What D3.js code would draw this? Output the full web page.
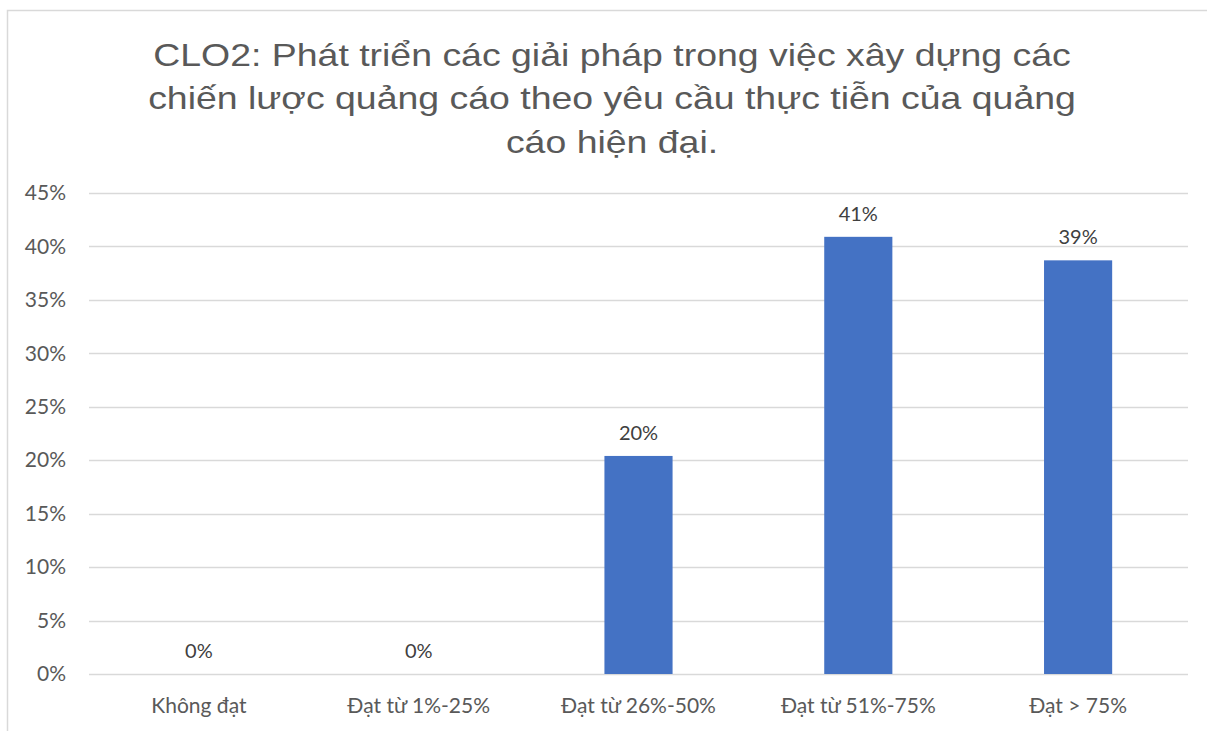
<!DOCTYPE html>
<meta charset="utf-8">
<head>
  <script src="https://d3js.org/d3.v7.min.js"></script>
  <style>
    body { margin: 0; background: #fff; }
    svg { display: block; }
  </style>
</head>
<body>
<div id="my_dataviz"></div>
<script>

// data
var categories = ["Không đạt", "Đạt từ 1%-25%", "Đạt từ 26%-50%", "Đạt từ 51%-75%", "Đạt > 75%"];
var values = [0, 0, 0.204, 0.409, 0.387];
var labels = ["0%", "0%", "20%", "41%", "39%"];
var yTicks = [0, 0.05, 0.10, 0.15, 0.20, 0.25, 0.30, 0.35, 0.40, 0.45];
var titleLines = [
  "CLO2: Phát triển các giải pháp trong việc xây dựng các",
  "chiến lược quảng cáo theo yêu cầu thực tiễn của quảng",
  "cáo hiện đại."
];

var W = 1207, H = 731;
var margin = {top: 193, right: 19, bottom: 57, left: 89},
    width = W - margin.left - margin.right,
    height = H - margin.top - margin.bottom;

var root = d3.select("#my_dataviz")
  .append("svg")
    .attr("width", W)
    .attr("height", H);

// chart frame
root.append("rect")
  .attr("x", 7.5).attr("y", 10.5)
  .attr("width", W + 10).attr("height", H + 10)
  .attr("fill", "none")
  .attr("stroke", "#d9d9d9")
  .attr("stroke-width", 1.5);

// title (the original is a bit wide, so stretch it horizontally)
root.append("text")
  .attr("text-anchor", "middle")
  .attr("transform", "translate(612,0) scale(1.17,1)")
  .style("font-family", "'Liberation Sans', Arial, sans-serif")
  .style("font-size", "32px")
  .style("fill", "#595959")
  .selectAll("tspan")
  .data(titleLines)
  .enter()
  .append("tspan")
    .attr("x", 0)
    .attr("y", function(d, i) { return 66 + i * 43.5; })
    .text(function(d) { return d; });

var svg = root.append("g")
  .attr("transform", "translate(" + margin.left + "," + margin.top + ")");

var x = d3.scaleBand()
  .domain(categories)
  .range([0, width])
  .paddingInner(0.69)
  .paddingOuter(0.345);

var y = d3.scaleLinear()
  .domain([0, 0.45])
  .range([height, 0]);

// gridlines
svg.append("g")
  .selectAll("line")
  .data(yTicks)
  .enter()
  .append("line")
    .attr("x1", 0)
    .attr("x2", width)
    .attr("y1", function(d) { return Math.round(y(d)) + 0.5; })
    .attr("y2", function(d) { return Math.round(y(d)) + 0.5; })
    .attr("stroke", "#d9d9d9")
    .attr("stroke-width", 1.5);

// Y axis labels
var yAxis = svg.append("g")
  .attr("transform", "translate(-20,0)")
  .call(d3.axisLeft(y).tickValues(yTicks).tickFormat(d3.format(".0%")).tickSize(0));
yAxis.select(".domain").remove();
yAxis.selectAll("text")
  .style("font-family", "Lato, 'Open Sans', sans-serif")
  .style("font-size", "21px")
  .style("fill", "#595959");

// X axis labels
var xAxis = svg.append("g")
  .attr("transform", "translate(0," + height + ")")
  .call(d3.axisBottom(x).tickSize(0).tickPadding(24));
xAxis.select(".domain").remove();
xAxis.selectAll("text")
  .style("font-family", "Lato, 'Open Sans', sans-serif")
  .style("font-size", "21px")
  .style("fill", "#595959");

// bars
svg.selectAll("rect.bar")
  .data(values)
  .enter()
  .append("rect")
    .attr("class", "bar")
    .attr("x", function(d, i) { return x(categories[i]); })
    .attr("y", function(d) { return y(d); })
    .attr("width", x.bandwidth())
    .attr("height", function(d) { return height - y(d); })
    .attr("fill", "#4472c4");

// data labels
svg.selectAll("text.lbl")
  .data(values)
  .enter()
  .append("text")
    .attr("class", "lbl")
    .attr("x", function(d, i) { return x(categories[i]) + x.bandwidth() / 2; })
    .attr("y", function(d) { return y(d) - 16; })
    .attr("text-anchor", "middle")
    .style("font-family", "Lato, 'Open Sans', sans-serif")
    .style("font-size", "20px")
    .style("fill", "#404040")
    .text(function(d, i) { return labels[i]; });

</script>
</body>
